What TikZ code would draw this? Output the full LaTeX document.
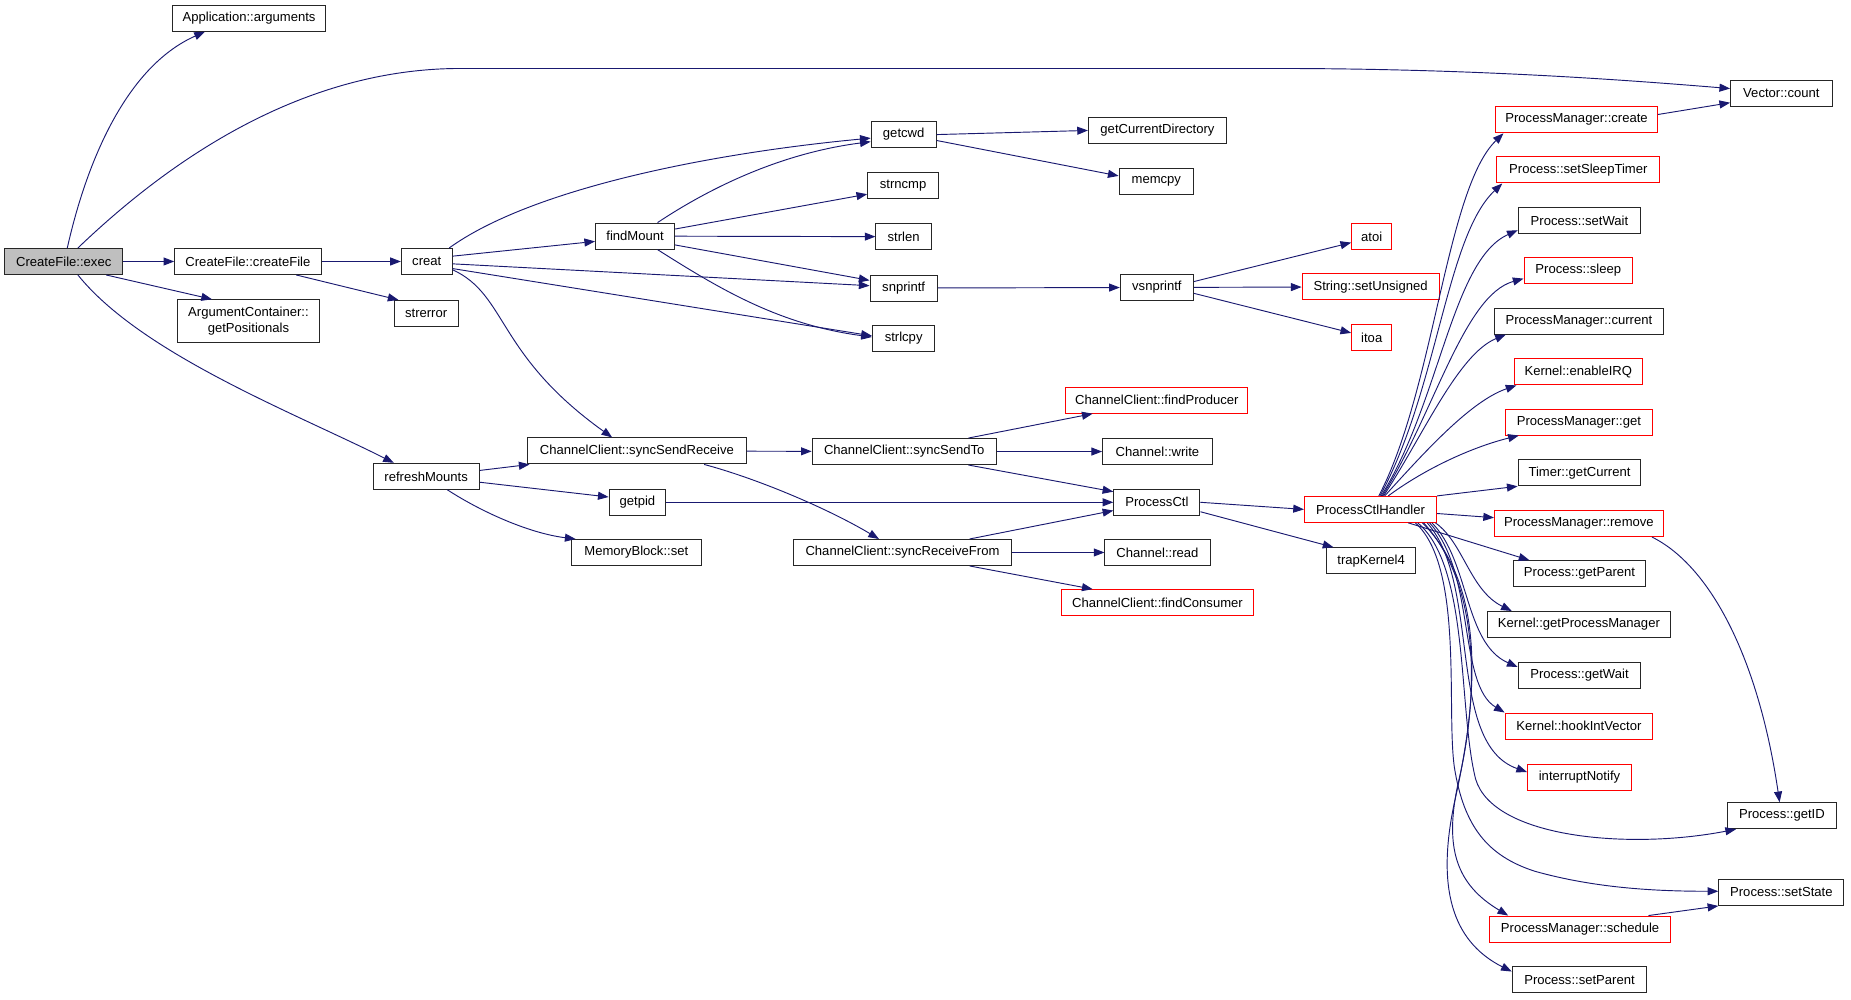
\documentclass[tikz,border=0pt]{standalone}
\usepackage{fontspec}
\setmainfont{Liberation Sans}
\usetikzlibrary{arrows.meta,calc}
\definecolor{edgec}{HTML}{191970}
\definecolor{grayfill}{HTML}{BFBFBF}
\definecolor{redline}{HTML}{FF0000}
\begin{document}
\begin{tikzpicture}[x=0.8854pt,y=-0.8854pt,
  box/.style={draw=black!85, line width=0.75pt, rectangle, minimum height=19.5pt, inner sep=0pt, font=\fontsize{9.8}{11.5}\selectfont, fill=white},
  redbox/.style={box, draw=redline},
  bw/.style={minimum width=#1*0.8854pt},
  e/.style={draw=edgec, line width=0.7pt, -{Triangle[length=8pt,width=6pt]}},
]
\useasboundingbox (0,0) rectangle (1568,847);

% nodes
\node[box,bw=100,fill=grayfill] (exec) at (54,221.5) {CreateFile::exec};
\node[box,bw=130] (args) at (211,15.5) {Application::arguments};
\node[box,bw=86] (vcount) at (1509,79) {Vector::count};
\node[box,bw=124] (createfile) at (210,221.5) {CreateFile::createFile};
\node[box,bw=121,minimum height=32pt,align=center] (getpos) at (210.5,272) {ArgumentContainer::\\getPositionals};
\node[box,bw=90] (refresh) at (361,403.5) {refreshMounts};
\node[box,bw=43] (creat) at (361.5,221.5) {creat};
\node[box,bw=54] (strerror) at (361,265.5) {strerror};
\node[box,bw=67] (findmount) at (538,200) {findMount};
\node[box,bw=55] (getcwd) at (765.5,114) {getcwd};
\node[box,bw=60] (strncmp) at (765,157.5) {strncmp};
\node[box,bw=47] (strlen) at (765.5,200.5) {strlen};
\node[box,bw=57] (snprintf) at (765.5,244) {snprintf};
\node[box,bw=53] (strlcpy) at (765.5,286.5) {strlcpy};
\node[box,bw=117] (getcurdir) at (980.5,110.5) {getCurrentDirectory};
\node[box,bw=63] (memcpy) at (979.5,154) {memcpy};
\node[box,bw=62] (vsnprintf) at (980,243.5) {vsnprintf};
\node[redbox,bw=34] (atoi) at (1162,200.5) {atoi};
\node[redbox,bw=116] (setunsigned) at (1161,243) {String::setUnsigned};
\node[redbox,bw=34] (itoa) at (1162,286) {itoa};
\node[box,bw=185] (ssr) at (539.5,382) {ChannelClient::syncSendReceive};
\node[box,bw=48] (getpid) at (540,425.5) {getpid};
\node[box,bw=110] (memset) at (539,468) {MemoryBlock::set};
\node[box,bw=156] (sst) at (766,382.5) {ChannelClient::syncSendTo};
\node[box,bw=185] (srf) at (764.5,468) {ChannelClient::syncReceiveFrom};
\node[redbox,bw=154] (findprod) at (980,339) {ChannelClient::findProducer};
\node[box,bw=93] (write) at (980.5,382.5) {Channel::write};
\node[box,bw=73] (pctl) at (980,425.5) {ProcessCtl};
\node[box,bw=89] (read) at (980.5,468) {Channel::read};
\node[redbox,bw=163] (findcons) at (980.5,510.5) {ChannelClient::findConsumer};
\node[box,bw=75] (trap) at (1161.5,475) {trapKernel4};
\node[redbox,bw=112] (pch) at (1161,431.5) {ProcessCtlHandler};
\node[redbox,bw=137] (pmcreate) at (1335.5,101.5) {ProcessManager::create};
\node[redbox,bw=138] (sleeptimer) at (1337,144) {Process::setSleepTimer};
\node[box,bw=104] (setwait) at (1338,187) {Process::setWait};
\node[redbox,bw=92] (sleep) at (1337,229) {Process::sleep};
\node[box,bw=143] (current) at (1337.5,272) {ProcessManager::current};
\node[redbox,bw=108] (enableirq) at (1337,315) {Kernel::enableIRQ};
\node[redbox,bw=125] (pmget) at (1337.5,357.5) {ProcessManager::get};
\node[box,bw=104] (getcurrent) at (1338,400.5) {Timer::getCurrent};
\node[redbox,bw=143] (pmremove) at (1337.5,443.5) {ProcessManager::remove};
\node[box,bw=112] (getparent) at (1338,486) {Process::getParent};
\node[box,bw=155] (getpm) at (1337.5,529) {Kernel::getProcessManager};
\node[box,bw=104] (getwait) at (1338,572) {Process::getWait};
\node[redbox,bw=125] (hook) at (1337.5,615) {Kernel::hookIntVector};
\node[redbox,bw=88] (intnotify) at (1338,658.5) {interruptNotify};
\node[box,bw=93] (getid) at (1509.5,691) {Process::getID};
\node[box,bw=106] (setstate) at (1509,756) {Process::setState};
\node[redbox,bw=153] (schedule) at (1338.5,787) {ProcessManager::schedule};
\node[box,bw=114] (setparent) at (1338,830) {Process::setParent};

% edges from exec
\draw[e] ($(exec.north)+(3,0)$) .. controls (75,130) and (110,55) .. ($(args.south west)+(28,0)$);
\draw[e] ($(exec.north)+(12,0)$) .. controls (160,120) and (270,58) .. (390,58) -- (1080,58) .. controls (1250,58) and (1380,68) .. ($(vcount.west)+(0,-4)$);
\draw[e] (exec) -- (createfile);
\draw[e] ($(exec.south)+(36,0)$) -- ($(getpos.north west)+(30,0)$);
\draw[e] ($(exec.south)+(12,0)$) .. controls (120,300) and (250,350) .. ($(refresh.north west)+(18,0)$);
% createFile
\draw[e] (createfile) -- (creat);
\draw[e] ($(createfile.south)+(41,0)$) -- ($(strerror.north west)+(4,0)$);
% creat
\draw[e] ($(creat.north)+(19,0)$) .. controls (450,160) and (600,130) .. ($(getcwd.west)+(0,3)$);
\draw[e] ($(creat.east)+(0,-4.5)$) -- ($(findmount.west)+(0,4.5)$);
\draw[e] ($(creat.east)+(0,2)$) -- ($(snprintf.west)+(0,-2)$);
\draw[e] ($(creat.east)+(0,6)$) -- ($(strlcpy.west)+(0,-2)$);
\draw[e] ($(creat.east)+(0,7)$) .. controls (430,250) and (420,300) .. ($(ssr.north west)+(72,0)$);
% findMount
\draw[e] ($(findmount.north)+(19,0)$) .. controls (600,160) and (660,130) .. ($(getcwd.west)+(0,6)$);
\draw[e] ($(findmount.east)+(0,-6)$) -- ($(strncmp.west)+(0,7)$);
\draw[e] (findmount) -- (strlen);
\draw[e] ($(findmount.east)+(0,7.5)$) -- ($(snprintf.west)+(0,-6.5)$);
\draw[e] ($(findmount.south)+(19,0)$) .. controls (610,245) and (660,275) .. ($(strlcpy.west)+(0,-1)$);
% getcwd, snprintf, vsnprintf
\draw[e] (getcwd.east) -- (getcurdir.west);
\draw[e] ($(getcwd.east)+(0,5)$) -- ($(memcpy.west)+(0,-5)$);
\draw[e] (snprintf) -- (vsnprintf);
\draw[e] ($(vsnprintf.east)+(0,-5)$) -- ($(atoi.west)+(0,5)$);
\draw[e] (vsnprintf) -- (setunsigned);
\draw[e] ($(vsnprintf.east)+(0,5)$) -- ($(itoa.west)+(0,-4)$);
% refreshMounts
\draw[e] ($(refresh.east)+(0,-5)$) -- ($(ssr.south west)+(2,0)$);
\draw[e] ($(refresh.east)+(0,5)$) -- ($(getpid.west)+(0,-4.5)$);
\draw[e] ($(refresh.south)+(18,0)$) .. controls (410,435) and (450,452) .. ($(memset.north west)+(4,0)$);
% channel client
\draw[e] (ssr) -- (sst);
\draw[e] ($(ssr.south)+(57,0)$) .. controls (640,405) and (700,430) .. ($(srf.north west)+(73,0)$);
\draw[e] ($(sst.north east)+(-24,0)$) -- ($(findprod.south west)+(23,0)$);
\draw[e] (sst) -- (write);
\draw[e] ($(sst.south east)+(-24,0)$) -- ($(pctl.west)+(0,-9)$);
\draw[e] (getpid) -- (pctl);
\draw[e] ($(srf.north east)+(-36,0)$) -- ($(pctl.west)+(0,7)$);
\draw[e] (srf) -- (read);
\draw[e] ($(srf.south east)+(-36,0)$) -- ($(findcons.north west)+(27,0)$);
% ProcessCtl
\draw[e] (pctl.east) -- (pch.west);
\draw[e] ($(pctl.east)+(0,8)$) -- ($(trap.north west)+(6,0)$);
% ProcessCtlHandler upward
\draw[e] ($(pch.north)+(7,0)$) .. controls (1215,330) and (1225,160) .. ($(pmcreate.south west)+(7,0)$);
\draw[e] ($(pch.north)+(8,0)$) .. controls (1218,330) and (1225,200) .. ($(sleeptimer.south west)+(5,0)$);
\draw[e] ($(pch.north)+(9,0)$) .. controls (1220,340) and (1230,220) .. ($(setwait.west)+(0,8)$);
\draw[e] ($(pch.north)+(10,0)$) .. controls (1215,350) and (1240,250) .. ($(sleep.west)+(0,7)$);
\draw[e] ($(pch.north)+(11,0)$) .. controls (1205,370) and (1235,300) .. ($(current.south west)+(10,0)$);
\draw[e] ($(pch.north)+(12,0)$) .. controls (1205,385) and (1245,340) .. ($(enableirq.south west)+(2,0)$);
\draw[e] ($(pch.north)+(15,0)$) .. controls (1210,395) and (1250,378) .. ($(pmget.south west)+(12,0)$);
\draw[e] (pch.north east) -- (getcurrent.south west);
\draw[e] ($(pch.east)+(0,3.5)$) -- ($(pmremove.west)+(0,-5)$);
% ProcessCtlHandler downward
\draw[e] ($(pch.south)+(32,0)$) -- ($(getparent.north west)+(14,0)$);
\draw[e] ($(pch.south)+(55,0)$) .. controls (1240,460) and (1245,500) .. ($(getpm.north west)+(21,0)$);
\draw[e] ($(pch.south)+(52,0)$) .. controls (1245,475) and (1240,545) .. ($(getwait.west)+(0,-7)$);
\draw[e] ($(pch.south)+(50,0)$) .. controls (1250,485) and (1235,580) .. (hook.north west);
\draw[e] ($(pch.south)+(48,0)$) .. controls (1255,495) and (1225,630) .. ($(intnotify.west)+(0,-4.5)$);
\draw[e] ($(pch.south)+(40,0)$) .. controls (1245,480) and (1235,600) .. (1250,660) .. controls (1265,710) and (1380,720) .. ($(getid.south west)+(8,0)$);
\draw[e] ($(pch.south)+(38,0)$) .. controls (1240,480) and (1225,600) .. (1232,650) .. controls (1240,700) and (1260,725) .. (1300,738) .. controls (1350,752) and (1400,755) .. ($(setstate.west)+(0,-1)$);
\draw[e] ($(pch.south)+(45,0)$) .. controls (1258,500) and (1250,600) .. (1236,660) .. controls (1222,720) and (1235,750) .. ($(schedule.north west)+(16,0)$);
\draw[e] ($(pch.south)+(44,0)$) .. controls (1262,500) and (1250,600) .. (1232,680) .. controls (1215,760) and (1235,800) .. ($(setparent.west)+(0,-7)$);
% others
\draw[e] ($(pmcreate.east)+(0,-4.5)$) -- ($(vcount.west)+(0,8)$);
\draw[e] ($(pmremove.south east)+(-10,0)$) .. controls (1450,480) and (1490,560) .. ($(getid.north)+(-2,0)$);
\draw[e] ($(schedule.north east)+(-19,0)$) -- (setstate.south west);
\end{tikzpicture}
\end{document}
